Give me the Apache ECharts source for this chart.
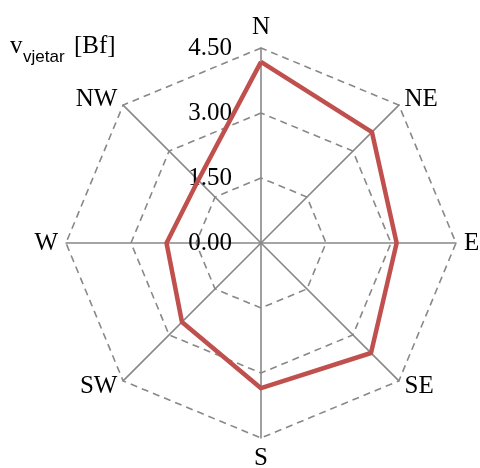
<!DOCTYPE html>
<html><head><meta charset="utf-8">
<script src="https://cdn.jsdelivr.net/npm/echarts@6/dist/echarts.min.js"></script>
<style>html,body{margin:0;padding:0;background:#fff}#c{width:480px;height:468px}</style>
</head><body><div id="c"></div>
<script>
// Directions in clockwise order starting at North
const directions = ['N', 'NE', 'E', 'SE', 'S', 'SW', 'W', 'NW'];
const windValues = [4.18, 3.62, 3.13, 3.59, 3.35, 2.58, 2.18, 2.05];
const tickValues = [0, 1.5, 3.0, 4.5];
const axisMax = 4.5;

// ECharts radar lays indicators counter-clockwise: reorder N, NW, W, ...
const order = [0, 7, 6, 5, 4, 3, 2, 1];
const indicator = order.map((i, k) => {
  const o = { name: directions[i], min: tickValues[0], max: axisMax };
  if (k === 0) o.axisLabel = { show: true };
  return o;
});
const seriesData = order.map(i => windValues[i]);

const serif = 'Liberation Serif';
const chart = echarts.init(document.getElementById('c'));
chart.setOption({
  animation: false,
  radar: {
    center: [261, 243],
    radius: 195,
    startAngle: 90,
    shape: 'polygon',
    splitNumber: tickValues.length - 1,
    indicator: indicator,
    axisName: { color: '#000', fontFamily: serif, fontSize: 25 },
    nameGap: 8,
    axisLine: { lineStyle: { color: '#888', width: 1.6 } },
    axisTick: { show: false },
    axisLabel: {
      show: false, color: '#000', fontFamily: serif, fontSize: 25,
      margin: 29,
      formatter: v => Number(v).toFixed(2)
    },
    splitLine: { lineStyle: { color: '#888', width: 1.6, type: [7, 5] } },
    splitArea: { show: false }
  },
  series: [{
    type: 'radar',
    symbol: 'none',
    lineStyle: { color: '#c0504d', width: 4.5 },
    data: [{ value: seriesData }]
  }],
  graphic: [
    { type: 'text', left: 10, top: 34, style: { text: 'v', fontFamily: serif, fontSize: 25, fill: '#000' } },
    { type: 'text', left: 23, top: 49, style: { text: 'vjetar', fontFamily: 'Liberation Sans', fontSize: 17, fill: '#000' } },
    { type: 'text', left: 74, top: 34, style: { text: '[Bf]', fontFamily: serif, fontSize: 25, fill: '#000' } }
  ]
});
</script></body></html>
